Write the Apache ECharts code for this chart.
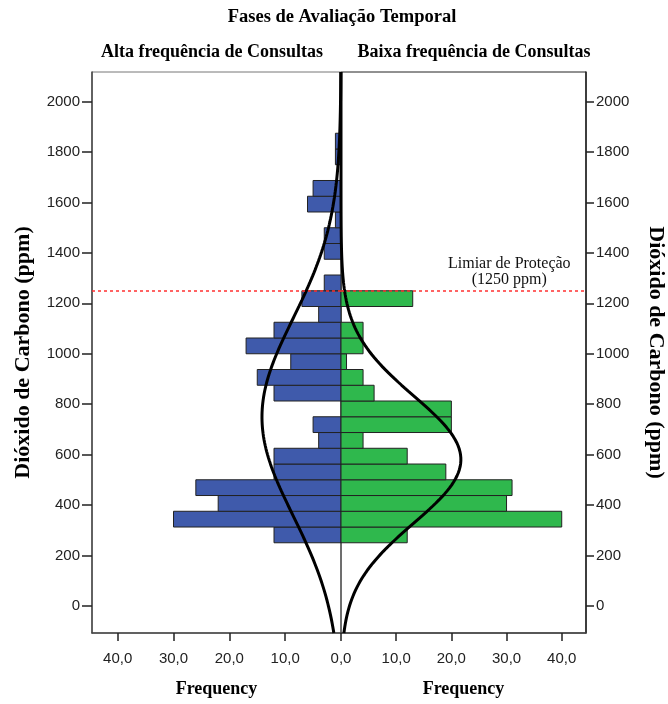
<!DOCTYPE html>
<html><head><meta charset="utf-8">
<script src="https://cdn.jsdelivr.net/npm/echarts@6/dist/echarts.min.js"></script>
<style>html,body{margin:0;padding:0;background:#fff}#c{width:668px;height:704px}</style>
</head><body><div id="c"></div>
<script>
// ---- data ----
const binStart = 250;          // ppm, lower edge of first bin
const binWidth = 62.5;         // ppm
// counts per bin, from the 250 ppm bin upward
const altaCounts  = [12,30,22,26,12,12,4,5,0,12,15,9,17,12,4,7,3,0,3,3,1,6,5,0,1,1];
const baixaCounts = [12,40,30,31,19,12,4,20,20,6,4,1,4,4,0,13];
const yTickValues = [0,200,400,600,800,1000,1200,1400,1600,1800,2000];
const xTickValues = [0,10,20,30,40];
const thresholdPpm = 1250;
const titleText = 'Fases de Avaliação Temporal';
const panelNames = ['Alta frequência de Consultas','Baixa frequência de Consultas'];
const yName = 'Dióxido de Carbono (ppm)';
const xName = 'Frequency';
const thresholdLabel = 'Limiar de Proteção\n(1250 ppm)';

const Y_MIN = -108, Y_MAX = 2118;
const BLUE = '#3f5aab', GREEN = '#2fb84d';

function binsToData(counts){
  return counts.map((c,i)=>[binStart+i*binWidth, binStart+(i+1)*binWidth, c]).filter(d=>d[2]>0);
}
// normal curve fitted to the binned data (as SPSS does)
function normalCurve(counts){
  let n=0,s=0,s2=0;
  counts.forEach((c,i)=>{const m=binStart+(i+0.5)*binWidth;n+=c;s+=c*m;s2+=c*m*m;});
  const mean=s/n, sd=Math.sqrt(s2/n-mean*mean);
  const k=n*binWidth/(sd*Math.sqrt(2*Math.PI));
  const pts=[];
  for(let y=Y_MIN;y<=Y_MAX;y+=6){pts.push([k*Math.exp(-(y-mean)*(y-mean)/(2*sd*sd)),y]);}
  return pts;
}
function renderBar(params, api){
  const lo=api.value(0), hi=api.value(1), c=api.value(2);
  const p1=api.coord([0,hi]), p2=api.coord([c,lo]);
  return {type:'rect',
    shape:{x:Math.min(p1[0],p2[0]), y:p1[1], width:Math.abs(p2[0]-p1[0]), height:p2[1]-p1[1]},
    style:{fill:api.visual('color'), stroke:'#222', lineWidth:1}};
}
const fmt = v => v.toFixed(1).replace('.',',');
const tickFont = {fontFamily:'Liberation Sans', fontSize:15, color:'#222'};
const serifBold = {fontFamily:'Liberation Serif', fontWeight:'bold', color:'#000'};

const chart = echarts.init(document.getElementById('c'), null, {renderer:'canvas'});
chart.setOption({
  animation:false,
  backgroundColor:'#fff',
  grid:[
    {left:92, top:72, width:249, height:561, show:true, borderColor:'#777', borderWidth:1, backgroundColor:'transparent'},
    {left:341, top:72, width:248, height:561, show:true, borderColor:'#222', borderWidth:1, backgroundColor:'transparent'}
  ],
  xAxis:[
    {gridIndex:0, type:'value', inverse:true, min:0, max:44.6, interval:10,
     axisLine:{show:true, onZero:false, lineStyle:{color:'#444', width:1.5}},
     axisTick:{show:true, length:8, lineStyle:{color:'#222', width:1.5}},
     axisLabel:{...tickFont, margin:18, formatter:v=>fmt(v), showMaxLabel:false},
     splitLine:{show:false},
     name:xName, nameLocation:'middle', nameGap:47, nameTextStyle:{...serifBold, fontSize:18}},
    {gridIndex:1, type:'value', min:0, max:44.4, interval:10,
     axisLine:{show:true, onZero:false, lineStyle:{color:'#444', width:1.5}},
     axisTick:{show:true, length:8, lineStyle:{color:'#222', width:1.5}},
     axisLabel:{...tickFont, margin:18, formatter:v=>v===0?'':fmt(v), showMaxLabel:false},
     splitLine:{show:false},
     name:xName, nameLocation:'middle', nameGap:47, nameTextStyle:{...serifBold, fontSize:18}}
  ],
  yAxis:[
    {gridIndex:0, type:'value', min:Y_MIN, max:Y_MAX, position:'left',
     axisLine:{show:true, onZero:false, lineStyle:{color:'#444', width:1.5}},
     axisTick:{show:true, length:10, customValues:yTickValues, lineStyle:{color:'#222', width:1.5}},
     axisLabel:{...tickFont, margin:12, customValues:yTickValues, formatter:v=>String(v)},
     splitLine:{show:false},
     name:yName, nameLocation:'middle', nameRotate:90, nameGap:58, nameTextStyle:{...serifBold, fontSize:22}},
    {gridIndex:1, type:'value', min:Y_MIN, max:Y_MAX, position:'right',
     axisLine:{show:true, onZero:false, lineStyle:{color:'#222', width:1.5}},
     axisTick:{show:true, length:8, customValues:yTickValues, lineStyle:{color:'#222', width:1.5}},
     axisLabel:{...tickFont, margin:10, customValues:yTickValues, formatter:v=>String(v)},
     splitLine:{show:false},
     name:yName, nameLocation:'middle', nameRotate:-90, nameGap:59, nameTextStyle:{...serifBold, fontSize:22}}
  ],
  series:[
    {type:'custom', xAxisIndex:0, yAxisIndex:0, renderItem:renderBar, itemStyle:{color:BLUE},
     encode:{x:2, y:[0,1]}, data:binsToData(altaCounts), z:2},
    {type:'custom', xAxisIndex:1, yAxisIndex:1, renderItem:renderBar, itemStyle:{color:GREEN},
     encode:{x:2, y:[0,1]}, data:binsToData(baixaCounts), z:2},
    {type:'line', xAxisIndex:0, yAxisIndex:0, data:normalCurve(altaCounts), showSymbol:false, symbol:'none',
     lineStyle:{color:'#000', width:3}, z:4, silent:true,
     markLine:{symbol:'none', silent:true, label:{show:false},
       lineStyle:{color:'#ff3030', type:[3,3], width:1.5}, data:[{yAxis:thresholdPpm}]}},
    {type:'line', xAxisIndex:1, yAxisIndex:1, data:normalCurve(baixaCounts), showSymbol:false, symbol:'none',
     lineStyle:{color:'#000', width:3}, z:4, silent:true,
     markLine:{symbol:'none', silent:true, label:{show:false},
       lineStyle:{color:'#ff3030', type:[3,3], width:1.5}, data:[{yAxis:thresholdPpm}]},
     markPoint:{symbol:'circle', symbolSize:0, silent:true,
       data:[{coord:[30.5, thresholdPpm],
         label:{show:true, position:'top', distance:3, formatter:thresholdLabel,
           fontFamily:'Liberation Serif', fontSize:16, lineHeight:16, color:'#111', align:'center'}}]}}
  ],
  graphic:[
    {type:'text', x:342, y:8, style:{text:titleText, fontFamily:'Liberation Serif', fontWeight:'bold', fontSize:18.5, fill:'#000', textAlign:'center'}},
    {type:'text', x:212, y:43, style:{text:panelNames[0], fontFamily:'Liberation Serif', fontWeight:'bold', fontSize:18, fill:'#000', textAlign:'center'}},
    {type:'text', x:474, y:43, style:{text:panelNames[1], fontFamily:'Liberation Serif', fontWeight:'bold', fontSize:18, fill:'#000', textAlign:'center'}}
  ]
});
</script></body></html>
